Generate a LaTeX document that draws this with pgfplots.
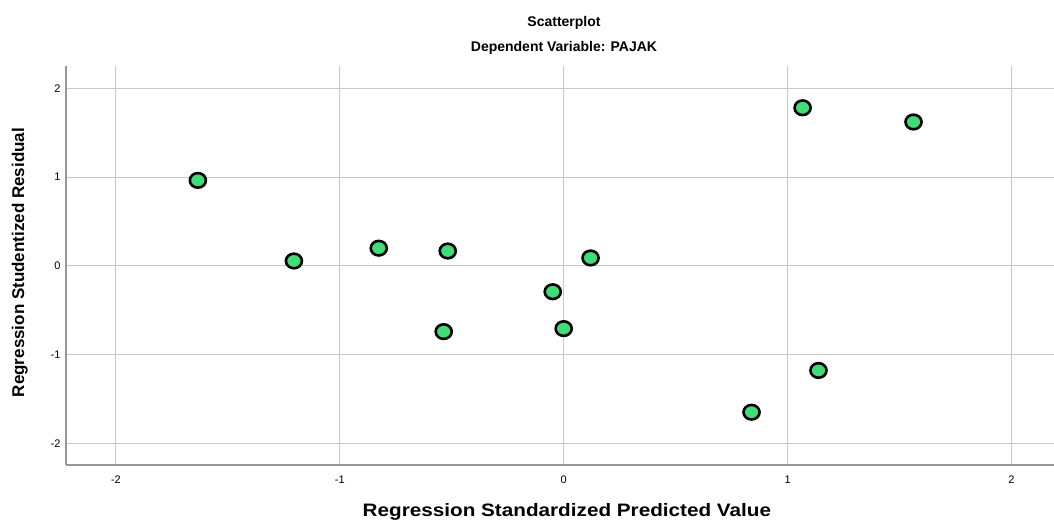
\documentclass[border=0pt]{standalone}
\usepackage{pgfplots}
\pgfplotsset{compat=1.18}
\usetikzlibrary{calc}
\usepackage{fontspec}
\setmainfont{Liberation Sans}
\definecolor{dotgreen}{RGB}{64,220,120}
\definecolor{gridgray}{RGB}{200,200,200}
\definecolor{axgray}{RGB}{150,150,150}
\begin{document}
\begin{tikzpicture}
\begin{axis}[
    name=ax,
    scale only axis,
    width=988pt, height=399pt,
    xmin=-2.223, xmax=2.19,
    ymin=-2.24, ymax=2.25,
    xtick={-2,-1,0,1,2}, ytick={-2,-1,0,1,2},
    grid=major,
    major grid style={gridgray, line width=0.9pt},
    axis x line*=bottom, axis y line*=left,
    axis line style={axgray, line width=1.2pt, -},
    major tick length=0pt,
    tick label style={font=\fontsize{11}{12}\selectfont},
    /pgf/number format/assume math mode=true,
    xticklabel style={yshift=-7pt},
    yticklabel style={xshift=-2pt},
    xlabel={\textbf{Regression Standardized Predicted Value}},
    ylabel={\textbf{Regression Studentized Residual}},
    xlabel style={font=\fontsize{18}{20}\selectfont, xscale=1.15, yshift=-13pt, xshift=6pt},
    ylabel style={font=\fontsize{17}{19}\selectfont, yshift=16pt, xshift=3pt},
    clip=false,
]
\addplot[only marks, mark=*, mark size=7.3pt,
    mark options={fill=dotgreen, draw=black, line width=2.6pt, xscale=1.1}]
coordinates {
(-1.634,0.963) (-1.205,0.056) (-0.826,0.20) (-0.518,0.168)
(-0.536,-0.739) (-0.049,-0.29) (0.0,-0.705) (0.12,0.09)
(1.067,1.78) (1.5625,1.62) (1.138,-1.176) (0.839,-1.646)
};
\end{axis}
\pgfresetboundingbox
\path[use as bounding box] (ax.south west) ++(-66pt,-55pt) rectangle ($(ax.north east)+(0pt,66pt)$);
\node[font=\bfseries\fontsize{14}{16}\selectfont, anchor=base] at ($(ax.north west)!0.5!(ax.north east)+(4pt,39pt)$) {Scatterplot};
\node[font=\bfseries\fontsize{14}{16}\selectfont, anchor=base] at ($(ax.north west)!0.5!(ax.north east)+(4pt,14pt)$) {Dependent Variable: PAJAK};
\end{tikzpicture}
\end{document}
